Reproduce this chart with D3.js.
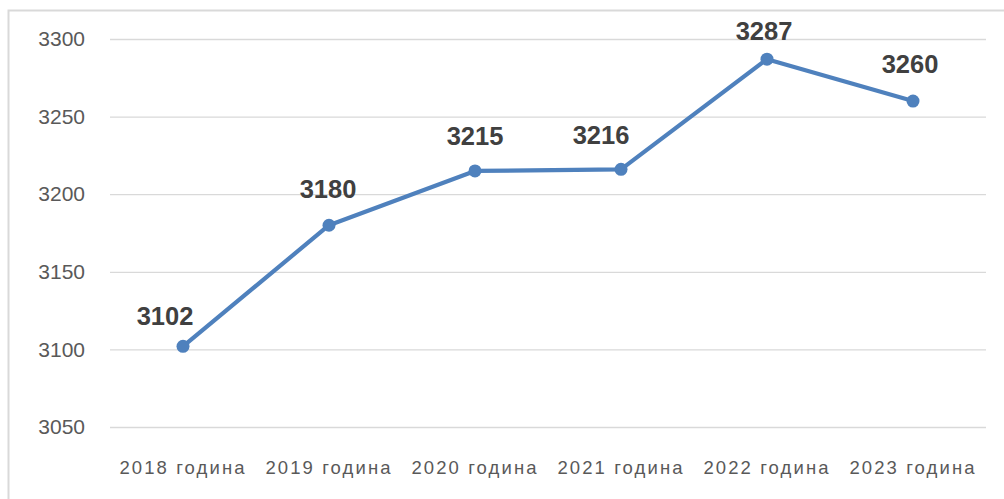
<!DOCTYPE html>
<html>
<head>
<meta charset="utf-8">
<script src="https://cdn.jsdelivr.net/npm/d3@7"></script>
<style>
  html, body { margin: 0; padding: 0; background: #fff; }
  svg { display: block; }
</style>
</head>
<body>
<script>
// ---- data ----
const categories = ["2018 година", "2019 година", "2020 година", "2021 година", "2022 година", "2023 година"];
const values = [3102, 3180, 3215, 3216, 3287, 3260];
const yTicks = [3050, 3100, 3150, 3200, 3250, 3300];

// ---- layout ----
const W = 1004, H = 499;
const plot = { left: 110, right: 986, top: 39, bottom: 427 };
// small manual nudges of the data labels (as in the original)
const labelNudgeX = [-18, -1, 0, -20, -3, -3];
const labelNudgeY = [-21, -27, -26, -25, -19, -28];

const svg = d3.select("body").append("svg").attr("width", W).attr("height", H);

// chart frame
svg.append("rect")
  .attr("x", 8.5).attr("y", 10.5)
  .attr("width", W + 20).attr("height", H + 20)
  .attr("fill", "#fff").attr("stroke", "#d9d9d9").attr("stroke-width", 2);

const x = d3.scaleBand().domain(categories).range([plot.left, plot.right]);
const y = d3.scaleLinear().domain([3050, 3300]).range([plot.bottom, plot.top]);

// gridlines + y labels
const yAxis = d3.axisLeft(y).tickValues(yTicks).tickSize(-(plot.right - plot.left)).tickPadding(25).tickFormat(d3.format("d"));
const gy = svg.append("g").attr("transform", `translate(${plot.left},0)`).call(yAxis);
gy.select(".domain").remove();
gy.selectAll(".tick line").attr("stroke", "#d9d9d9").attr("stroke-width", 1.3);
gy.selectAll(".tick text")
  .attr("fill", "#595959")
  .style("font-family", "'Liberation Sans', Arial, sans-serif")
  .style("font-size", "21px");

// x labels
const xAxis = d3.axisBottom(x).tickSize(0).tickPadding(0);
const gx = svg.append("g").attr("transform", `translate(0,${plot.bottom})`).call(xAxis);
gx.select(".domain").remove();
gx.selectAll(".tick text")
  .attr("fill", "#595959")
  .attr("dy", 0).attr("y", 47)
  .style("font-family", "'Liberation Sans', Arial, sans-serif")
  .style("font-size", "18.5px")
  .style("letter-spacing", "2.1px");

// line
const line = d3.line()
  .x((d, i) => x(categories[i]) + x.bandwidth() / 2)
  .y(d => y(d));

svg.append("path")
  .datum(values)
  .attr("d", line)
  .attr("fill", "none")
  .attr("stroke", "#4f81bd")
  .attr("stroke-width", 4.2)
  .attr("stroke-linejoin", "round");

svg.selectAll("circle.pt")
  .data(values)
  .join("circle")
  .attr("class", "pt")
  .attr("cx", (d, i) => x(categories[i]) + x.bandwidth() / 2)
  .attr("cy", d => y(d))
  .attr("r", 6.5)
  .attr("fill", "#4f81bd");

svg.selectAll("text.lbl")
  .data(values)
  .join("text")
  .attr("class", "lbl")
  .attr("x", (d, i) => x(categories[i]) + x.bandwidth() / 2 + labelNudgeX[i])
  .attr("y", (d, i) => y(d) + labelNudgeY[i])
  .attr("text-anchor", "middle")
  .attr("fill", "#404040")
  .style("font-family", "'Liberation Sans', Arial, sans-serif")
  .style("font-weight", "bold")
  .style("font-size", "25.5px")
  .text(d => d);
</script>
</body>
</html>
